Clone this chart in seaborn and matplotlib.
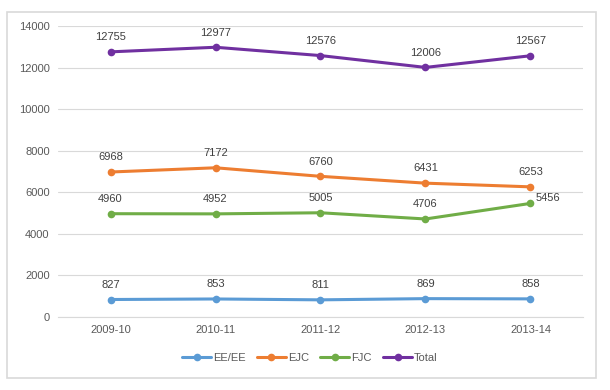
import matplotlib
matplotlib.use("Agg")
import matplotlib.pyplot as plt
import seaborn as sns
import pandas as pd
from matplotlib.patches import Rectangle

years = ["2009-10", "2010-11", "2011-12", "2012-13", "2013-14"]
ee_ee = [827, 853, 811, 869, 858]
ejc = [6968, 7172, 6760, 6431, 6253]
fjc = [4960, 4952, 5005, 4706, 5456]
total = [12755, 12977, 12576, 12006, 12567]
series_names = ["EE/EE", "EJC", "FJC", "Total"]
colors = ["#5B9BD5", "#ED7D31", "#70AD47", "#7030A0"]
yticks = [0, 2000, 4000, 6000, 8000, 10000, 12000, 14000]

rows = []
for name, vals in zip(series_names, [ee_ee, ejc, fjc, total]):
    for i, (y, v) in enumerate(zip(years, vals)):
        rows.append({"year": y, "pos": i, "value": v, "series": name})
df = pd.DataFrame(rows)

sns.set_theme(style="white")
plt.rcParams["font.family"] = ["Liberation Sans", "DejaVu Sans"]
txt = "#595959"

fig = plt.figure(figsize=(6.1, 3.9), dpi=100)
ax = fig.add_axes([0.0951, 0.188, 0.8606, 0.7453])

sns.lineplot(data=df, x="pos", y="value", hue="series", hue_order=series_names,
             palette=colors, marker="o", markersize=5.5, markeredgewidth=0,
             linewidth=2.2, ax=ax, legend=True)

for name, vals, c in zip(series_names, [ee_ee, ejc, fjc, total], colors):
    for i, v in enumerate(vals):
        dy = 7
        dx = 0
        ha = "center"
        if name == "FJC" and i == 4:
            dx, dy, ha = 4, 0, "left"
        ax.annotate(str(v), (i, v), xytext=(dx, dy), textcoords="offset points",
                    ha=ha, va="bottom", fontsize=8, color="#404040")

ax.set_xlim(-0.5, 4.5)
ax.set_ylim(0, 14000)
ax.set_yticks(yticks)
ax.set_yticklabels([str(t) for t in yticks])
ax.set_xticks(range(len(years)))
ax.set_xticklabels(years)
ax.tick_params(axis="both", labelsize=8, colors=txt, length=0, pad=6)
ax.grid(axis="y", color="#D9D9D9", linewidth=0.8)
ax.grid(axis="x", visible=False)
for s in ["top", "right", "left"]:
    ax.spines[s].set_visible(False)
ax.spines["bottom"].set_color("#D9D9D9")
ax.spines["bottom"].set_linewidth(0.8)
ax.set_xlabel("")
ax.set_ylabel("")

handles, labels = ax.get_legend_handles_labels()
ax.legend(handles, labels, loc="center", bbox_to_anchor=(0.48, -0.142),
          ncol=4, frameon=False, fontsize=8, handlelength=2.6,
          handletextpad=0.2, columnspacing=1.0, labelcolor=txt)

fig.add_artist(Rectangle((7 / 610, 1 - 378 / 390), 589 / 610, 366 / 390,
                         transform=fig.transFigure, fill=False,
                         edgecolor="#D9D9D9", linewidth=1.2))

fig.savefig("out.png", dpi=100)
